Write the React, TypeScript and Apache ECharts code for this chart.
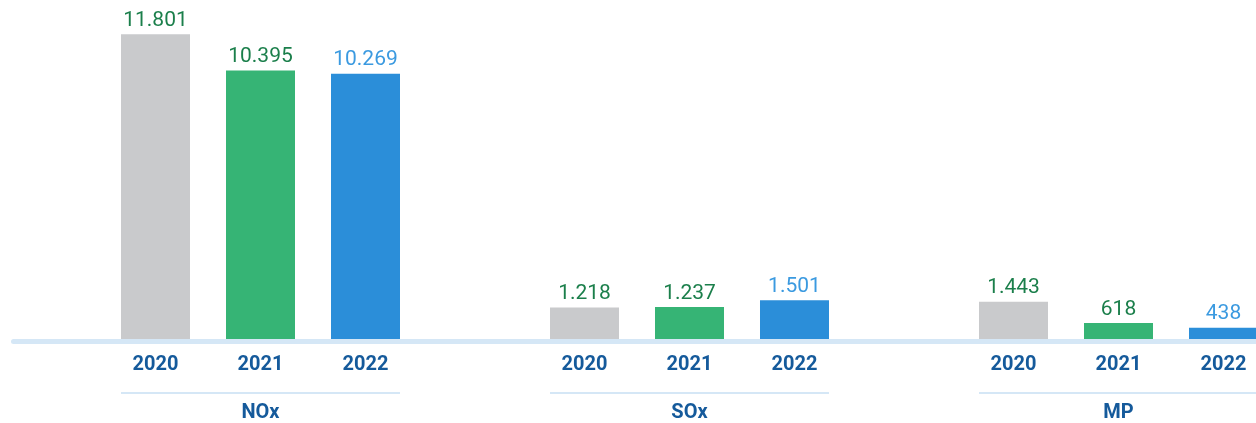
import React, { useEffect, useRef } from "react";
import * as echarts from "echarts";

const CATEGORIES = ["NOx", "SOx", "MP"];
const YEARS = ["2020", "2021", "2022"];
const VALUES_2020 = [11801, 1218, 1443];
const VALUES_2021 = [10395, 1237, 618];
const VALUES_2022 = [10269, 1501, 438];
const SERIES_VALUES = [VALUES_2020, VALUES_2021, VALUES_2022];

const BAR_COLORS = ["#c9cacc", "#36b475", "#2b8ed9"];
const LABEL_COLORS = ["#1b7f4b", "#1b7f4b", "#3b9ae0"];
const DARK_BLUE = "#155a9b";
const LIGHT_BLUE = "#d5e7f6";

const fmt = (v: number) => String(v).replace(/\B(?=(\d{3})+(?!\d))/g, ".");

export default function App() {
  const ref = useRef<HTMLDivElement>(null);
  useEffect(() => {
    if (!ref.current) return;
    const chart = echarts.init(ref.current, undefined, { renderer: "svg" });
    chart.setOption({
      animation: false,
      grid: {
        left: 46,
        width: 1287,
        top: 29,
        bottom: 84,
        containLabel: false,
        outerBoundsMode: "none",
      },
      xAxis: {
        type: "category",
        data: CATEGORIES,
        axisLine: { show: false },
        axisTick: { show: false },
        axisLabel: {
          interval: 0,
          margin: 12,
          formatter: (name: string) =>
            `${YEARS.map((y) => `{y|${y}}`).join("")}\n{sp|}\n{ul|}\n{g|${name}}`,
          rich: {
            y: {
              width: 105,
              align: "center",
              fontSize: 20,
              fontWeight: "bold",
              fontFamily: "Roboto",
              color: DARK_BLUE,
              lineHeight: 24,
            },
            sp: { width: 1, height: 17, lineHeight: 17, align: "center" },
            ul: {
              width: 279,
              height: 2,
              lineHeight: 2,
              backgroundColor: LIGHT_BLUE,
              align: "center",
            },
            g: {
              align: "center",
              fontSize: 20,
              fontWeight: "bold",
              fontFamily: "Roboto",
              color: DARK_BLUE,
              lineHeight: 34,
            },
          },
        },
      },
      yAxis: {
        type: "value",
        min: 0,
        max: 12000,
        show: false,
        splitLine: { show: false },
      },
      graphic: [
        {
          type: "rect",
          z: 0,
          shape: { x: 11, y: 339, width: 1300, height: 5, r: 2.5 },
          style: { fill: LIGHT_BLUE },
        },
      ],
      series: SERIES_VALUES.map((vals, i) => ({
        type: "bar",
        name: YEARS[i],
        data: vals,
        barWidth: 69,
        barGap: "52.17%",
        itemStyle: { color: BAR_COLORS[i] },
        label: {
          show: true,
          position: "top",
          distance: 5,
          fontSize: 21,
          fontFamily: "Roboto",
          color: LABEL_COLORS[i],
          formatter: (p: any) => fmt(p.value),
        },
      })),
    });
    return () => chart.dispose();
  }, []);
  return (
    <div
      ref={ref}
      style={{ position: "fixed", left: 0, top: 0, width: 1256, height: 423 }}
    />
  );
}
